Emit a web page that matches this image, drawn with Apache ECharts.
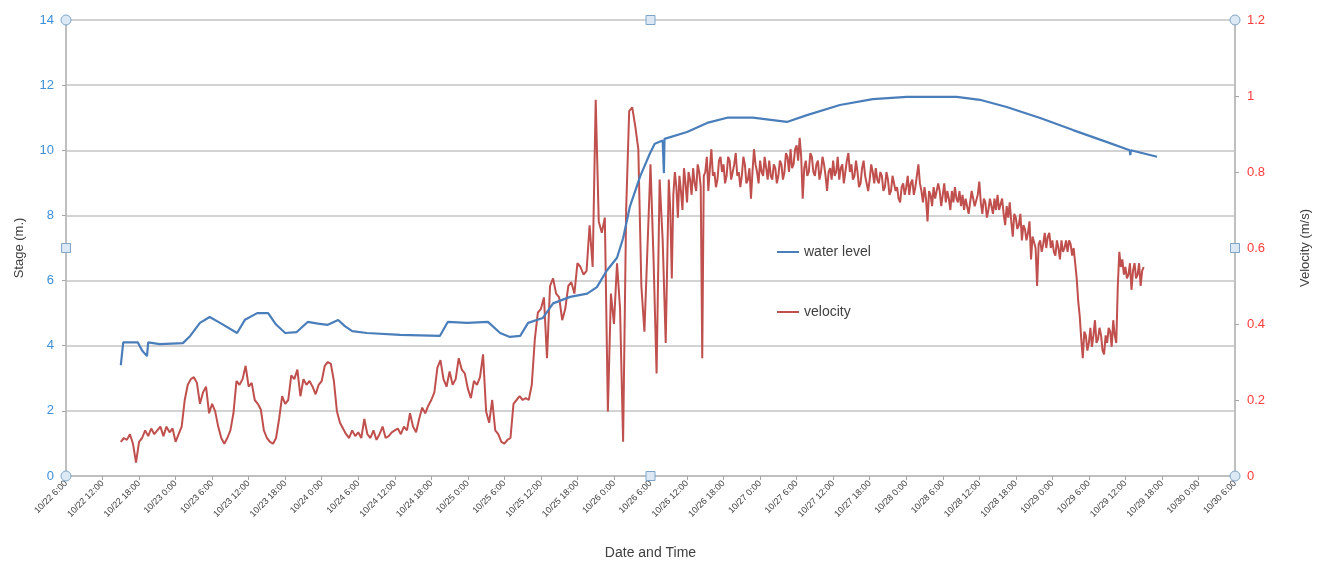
<!DOCTYPE html>
<html>
<head>
<meta charset="utf-8">
<title>Stage and Velocity</title>
<script src="https://cdn.jsdelivr.net/npm/echarts@6/dist/echarts.min.js"></script>
<style>
  html, body { margin: 0; padding: 0; background: #ffffff; }
  #chart { width: 1323px; height: 563px; }
</style>
</head>
<body>
<div id="chart"></div>
<script>
// Time is counted in hours from 10/22 0:00.
const axisStartHour = 6;     // 10/22 6:00
const axisEndHour = 198;     // 10/30 6:00
const tickStepHours = 6;

// Water level (stage, m) readings: hour and value.
const levelHours = [
  15.0, 15.4, 17.8, 18.5, 19.3, 19.5, 21.4, 25.2, 26.4, 28.0, 29.6, 31.3,
  34.1, 35.4, 37.4, 39.2, 40.5, 42.0, 43.9, 45.7, 47.4, 49.0, 50.7, 51.8,
  53.0, 55.4, 60.9, 67.4, 68.7, 71.9, 75.3, 77.3, 78.9, 80.6, 81.9, 84.3,
  86.0, 88.8, 91.6, 93.2, 94.8, 96.5, 97.5, 98.6, 100.3, 101.9, 102.7, 104.0,
  104.2, 104.3, 108.0, 111.3, 114.6, 118.8, 124.4, 127.7, 133.1, 138.5, 144.1, 152.3,
  156.1, 160.5, 166.0, 171.4, 177.0, 180.7, 180.8, 180.9, 185.2
];
const levelValues = [
  3.4, 4.1, 4.1, 3.85, 3.68, 4.1, 4.05, 4.08, 4.3, 4.7, 4.88, 4.7,
  4.39, 4.8, 5.0, 5.0, 4.65, 4.39, 4.42, 4.73, 4.68, 4.64, 4.79, 4.6,
  4.45, 4.39, 4.33, 4.30, 4.73, 4.70, 4.73, 4.39, 4.27, 4.30, 4.70, 4.85,
  5.3, 5.5, 5.6, 5.8, 6.3, 6.7, 7.3, 8.26, 9.2, 9.9, 10.2, 10.3,
  9.3, 10.35, 10.56, 10.84, 11.0, 11.0, 10.87, 11.08, 11.39, 11.57, 11.64, 11.64,
  11.55, 11.33, 10.99, 10.62, 10.25, 10.0, 9.85, 10.0, 9.8
];

// Velocity (m/s), half-hourly from 10/22 15:00 up to 10/26 8:30.
const velocityEarlyStartHour = 15;
const velocityEarlyStepHours = 0.5;
const velocityEarly = [
  0.09, 0.10, 0.095, 0.11, 0.085, 0.035, 0.09, 0.10, 0.12, 0.105, 0.125, 0.11,
  0.12, 0.13, 0.105, 0.13, 0.115, 0.125, 0.09, 0.11, 0.13, 0.20, 0.24, 0.255,
  0.26, 0.245, 0.19, 0.22, 0.235, 0.165, 0.19, 0.17, 0.13, 0.10, 0.085, 0.10,
  0.12, 0.165, 0.25, 0.24, 0.255, 0.29, 0.235, 0.245, 0.20, 0.19, 0.175, 0.12,
  0.10, 0.09, 0.085, 0.10, 0.15, 0.21, 0.19, 0.20, 0.265, 0.255, 0.28, 0.21,
  0.255, 0.24, 0.25, 0.235, 0.215, 0.24, 0.25, 0.29, 0.30, 0.295, 0.25, 0.17,
  0.14, 0.125, 0.11, 0.10, 0.12, 0.105, 0.115, 0.10, 0.15, 0.11, 0.10, 0.12,
  0.095, 0.11, 0.13, 0.10, 0.105, 0.115, 0.12, 0.125, 0.11, 0.13, 0.12, 0.165,
  0.13, 0.115, 0.15, 0.18, 0.165, 0.185, 0.20, 0.22, 0.285, 0.305, 0.255, 0.235,
  0.275, 0.24, 0.255, 0.31, 0.28, 0.27, 0.23, 0.205, 0.25, 0.24, 0.26, 0.32,
  0.17, 0.14, 0.20, 0.12, 0.11, 0.09, 0.085, 0.095, 0.10, 0.19, 0.20, 0.21,
  0.20, 0.205, 0.20, 0.24, 0.36, 0.43, 0.44, 0.47, 0.31, 0.50, 0.52, 0.48,
  0.47, 0.41, 0.44, 0.50, 0.51, 0.48, 0.56, 0.55, 0.53, 0.54, 0.66, 0.55,
  0.99, 0.67, 0.64, 0.68, 0.17, 0.48, 0.40, 0.56, 0.44, 0.09, 0.70, 0.96,
  0.97, 0.92, 0.86, 0.50, 0.38, 0.60, 0.82, 0.57, 0.27, 0.78, 0.62, 0.35
];

// Velocity (m/s), quarter-hourly from 10/26 9:00 to 10/29 15:00.
const velocityLateStartHour = 105;
const velocityLateStepHours = 0.25;
const velocityLate = [
  0.78, 0.70, 0.52, 0.74, 0.80, 0.76, 0.68, 0.79, 0.75, 0.70, 0.81, 0.77,
  0.72, 0.80, 0.78, 0.74, 0.81, 0.77, 0.75, 0.82, 0.80, 0.76, 0.31, 0.79,
  0.80, 0.84, 0.75, 0.81, 0.86, 0.79, 0.80, 0.76, 0.78, 0.83, 0.84, 0.80,
  0.82, 0.77, 0.79, 0.84, 0.83, 0.78, 0.78, 0.82, 0.85, 0.79, 0.80, 0.76,
  0.79, 0.84, 0.82, 0.77, 0.78, 0.81, 0.73, 0.80, 0.86, 0.82, 0.80, 0.77,
  0.83, 0.80, 0.79, 0.84, 0.81, 0.78, 0.83, 0.79, 0.78, 0.82, 0.81, 0.77,
  0.79, 0.83, 0.82, 0.78, 0.80, 0.85, 0.84, 0.80, 0.86, 0.81, 0.82, 0.86,
  0.87, 0.83, 0.89, 0.84, 0.73, 0.81, 0.83, 0.79, 0.80, 0.85, 0.84, 0.80,
  0.79, 0.82, 0.83, 0.78, 0.80, 0.84, 0.82, 0.79, 0.75, 0.80, 0.81, 0.78,
  0.83, 0.79, 0.80, 0.84, 0.78, 0.81, 0.82, 0.77, 0.80, 0.83, 0.85, 0.80,
  0.82, 0.78, 0.79, 0.83, 0.80, 0.76, 0.77, 0.81, 0.83, 0.79, 0.79, 0.75,
  0.78, 0.82, 0.80, 0.77, 0.81, 0.78, 0.77, 0.80, 0.79, 0.75, 0.76, 0.80,
  0.78, 0.74, 0.75, 0.79, 0.79, 0.75, 0.76, 0.73, 0.72, 0.76, 0.77, 0.74,
  0.76, 0.79, 0.74, 0.77, 0.78, 0.74, 0.76, 0.79, 0.82, 0.77, 0.75, 0.72,
  0.76, 0.73, 0.67, 0.75, 0.74, 0.71, 0.76, 0.73, 0.73, 0.77, 0.75, 0.71,
  0.74, 0.77, 0.72, 0.75, 0.73, 0.70, 0.75, 0.72, 0.76, 0.73, 0.72, 0.75,
  0.71, 0.74, 0.70, 0.73, 0.73, 0.69, 0.72, 0.75, 0.745, 0.71, 0.71, 0.74,
  0.775, 0.72, 0.69, 0.73, 0.72, 0.68, 0.70, 0.73, 0.71, 0.69, 0.73, 0.70,
  0.74, 0.70, 0.70, 0.73, 0.69, 0.66, 0.71, 0.68, 0.72, 0.67, 0.63, 0.69,
  0.68, 0.65, 0.66, 0.69, 0.62, 0.66, 0.65, 0.62, 0.64, 0.67, 0.57, 0.63,
  0.63, 0.60, 0.50, 0.61, 0.62, 0.59, 0.61, 0.64, 0.60, 0.63, 0.64, 0.60,
  0.62, 0.59, 0.58, 0.62, 0.60, 0.57, 0.62, 0.59, 0.60, 0.62, 0.59, 0.62,
  0.61, 0.58, 0.60, 0.56, 0.52, 0.46, 0.42, 0.36, 0.31, 0.38, 0.37, 0.33,
  0.35, 0.39, 0.34, 0.37, 0.41, 0.35, 0.36, 0.39, 0.37, 0.33, 0.32, 0.37,
  0.35, 0.39, 0.38, 0.34, 0.41, 0.37, 0.35, 0.50, 0.59, 0.55, 0.57, 0.53,
  0.55, 0.52, 0.53, 0.56, 0.49, 0.54, 0.56, 0.52, 0.53, 0.56, 0.50, 0.54,
  0.55
];

const levelData = levelHours.map((h, i) => [h, levelValues[i]]);
const velocityData = velocityEarly
  .map((v, i) => [velocityEarlyStartHour + i * velocityEarlyStepHours, v])
  .concat(velocityLate.map((v, i) => [velocityLateStartHour + i * velocityLateStepHours, v]));

function hourLabel(h) {
  const day = 22 + Math.floor(h / 24);
  const hour = h % 24;
  return '10/' + day + ' ' + hour + ':00';
}

const FONT = '"Liberation Sans", "Noto Sans", sans-serif';
const chart = echarts.init(document.getElementById('chart'));

// Selection handles around the plot frame
function handles() {
  const L = 66, R = 1235, T = 20, B = 476, MX = 650.5, MY = 248;
  const fill = '#dce9f5', stroke = '#7fa6c8';
  const circle = (x, y) => ({ type: 'circle', shape: { cx: x, cy: y, r: 5 }, style: { fill, stroke, lineWidth: 1 }, z: 100 });
  const square = (x, y) => ({ type: 'rect', shape: { x: x - 4.5, y: y - 4.5, width: 9, height: 9 }, style: { fill, stroke, lineWidth: 1 }, z: 100 });
  return [circle(L, T), circle(R, T), circle(L, B), circle(R, B),
          square(MX, T), square(MX, B), square(L, MY), square(R, MY)];
}

chart.setOption({
  animation: false,
  backgroundColor: '#ffffff',
  textStyle: { fontFamily: FONT },
  grid: { left: 66, right: 88, top: 20, bottom: 87, containLabel: false, outerBoundsMode: 'none' },
  legend: {
    orient: 'vertical',
    left: 772,
    top: 240,
    itemWidth: 22,
    itemHeight: 2,
    itemGap: 46,
    icon: 'rect',
    textStyle: { color: '#404040', fontSize: 14, fontFamily: FONT },
    data: ['water level', 'velocity']
  },
  xAxis: {
    type: 'value',
    min: axisStartHour,
    max: axisEndHour,
    interval: tickStepHours,
    name: 'Date and Time',
    nameLocation: 'middle',
    nameGap: 70,
    nameTextStyle: { color: '#404040', fontSize: 14, fontFamily: FONT },
    axisLine: { show: true, onZero: false, lineStyle: { color: '#bfbfbf', width: 2 } },
    axisTick: { show: true, length: 4, lineStyle: { color: '#a6a6a6' } },
    axisLabel: {
      rotate: 45,
      fontSize: 9,
      color: '#404040',
      margin: 6,
      hideOverlap: false,
      showMinLabel: true,
      showMaxLabel: true,
      formatter: hourLabel
    },
    splitLine: { show: false }
  },
  yAxis: [
    {
      type: 'value',
      min: 0,
      max: 14,
      interval: 2,
      name: 'Stage (m.)',
      nameLocation: 'middle',
      nameRotate: 90,
      nameGap: 40,
      nameTextStyle: { color: '#404040', fontSize: 13, fontFamily: FONT },
      axisLine: { show: true, lineStyle: { color: '#bfbfbf', width: 2 } },
      axisTick: { show: true, length: 4, lineStyle: { color: '#a6a6a6' } },
      axisLabel: { color: '#3d8fd9', fontSize: 13, margin: 12 },
      splitLine: { show: true, lineStyle: { color: '#c4c4c4', width: 1.5 } }
    },
    {
      type: 'value',
      min: 0,
      max: 1.2,
      interval: 0.2,
      position: 'right',
      name: 'Velocity (m/s)',
      nameLocation: 'middle',
      nameRotate: 90,
      nameGap: 64,
      nameTextStyle: { color: '#404040', fontSize: 13, fontFamily: FONT },
      axisLine: { show: true, lineStyle: { color: '#bfbfbf', width: 2 } },
      axisTick: { show: true, length: 4, lineStyle: { color: '#a6a6a6' } },
      axisLabel: { color: '#ff3b3b', fontSize: 13, margin: 12 },
      splitLine: { show: false }
    }
  ],
  series: [
    {
      name: 'velocity',
      type: 'line',
      yAxisIndex: 1,
      data: velocityData,
      showSymbol: false,
      lineStyle: { color: '#c0504d', width: 2 },
      itemStyle: { color: '#c0504d' },
      z: 2
    },
    {
      name: 'water level',
      type: 'line',
      yAxisIndex: 0,
      data: levelData,
      showSymbol: false,
      lineStyle: { color: '#4a7ebb', width: 2.2 },
      itemStyle: { color: '#4a7ebb' },
      z: 3
    }
  ],
  graphic: handles()
});
</script>
</body>
</html>
